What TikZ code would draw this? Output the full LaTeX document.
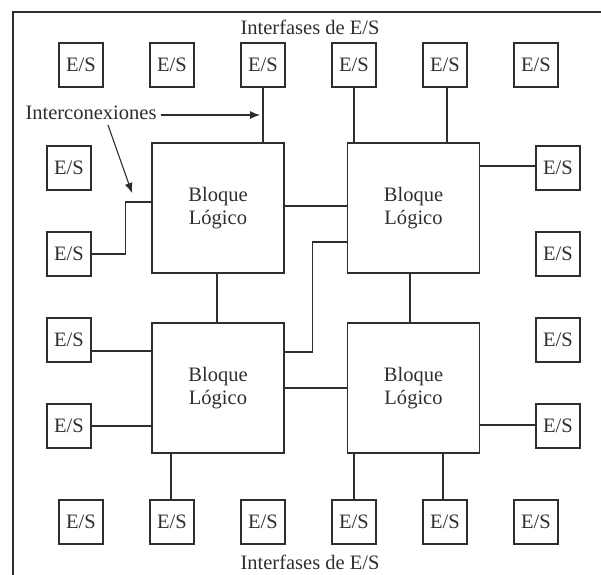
\documentclass[tikz,border=0pt]{standalone}
\usepackage{fontspec}
\setmainfont{Liberation Serif}
\usetikzlibrary{arrows.meta,calc}
\definecolor{ink}{HTML}{2E2E2E}
\begin{document}
\begin{tikzpicture}[x=1pt,y=-1pt,
  font=\fontsize{20.5}{22}\selectfont,
  every node/.style={text=ink},
  iobox/.style={draw=ink,line width=1.4pt,minimum width=44pt,minimum height=44pt,inner sep=0pt},
  logicbox/.style={draw=ink,line width=1.4pt,minimum width=132pt,minimum height=130pt,inner sep=0pt,align=center,font=\fontsize{20.5}{23}\selectfont},
  wire/.style={draw=ink,line width=1.3pt},
  pointer/.style={draw=ink,line width=1.1pt,-{Latex[length=10pt,width=8pt]}}]
\useasboundingbox (0,0) rectangle (601,574);
% outer frame (right and bottom sides lie beyond the page)
\draw[ink,line width=1.4pt] (13,590) -- (13,12) -- (620,12);

% I/O pads
\foreach \i/\x in {1/81,2/172,3/263,4/354,5/445,6/536}{
  \node[iobox] (t\i) at (\x,65) {E/S};
  \node[iobox] (b\i) at (\x,522) {E/S};
}
\foreach \i/\y in {1/168,2/254,3/340,4/426}{
  \node[iobox] (l\i) at (69,\y) {E/S};
  \node[iobox] (r\i) at (558,\y) {E/S};
}

% logic blocks
\node[logicbox] (A) at (218,208) {Bloque\\Lógico};
\node[logicbox] (B) at (413.5,208) {Bloque\\Lógico};
\node[logicbox] (C) at (218,388) {Bloque\\Lógico};
\node[logicbox] (D) at (413.5,388) {Bloque\\Lógico};

% interface labels
\node (ttop) at (310,27) {Interfases de E/S};
\node (tbot) at (310,562) {Interfases de E/S};

% interconnections
\draw[wire] (t3.south) -- (t3.south |- A.north);
\draw[wire] (t4.south) -- (t4.south |- B.north);
\draw[wire] ([xshift=2pt]t5.south) -- ([xshift=2pt]t5.south |- B.north);
\draw[wire] ([yshift=2pt]r1.west) -- ([yshift=2pt]r1.west -| B.east);
\draw[wire] (l2.east) -- ++(34,0) |- ([yshift=6pt]A.west);
\draw[wire] ([yshift=2pt]A.east) -- ([yshift=2pt]B.west);
\draw[wire] ([xshift=-1pt]A.south) -- ([xshift=-1pt]C.north);
\draw[wire] ([xshift=-3.5pt]B.south) -- ([xshift=-3.5pt]D.north);
\draw[wire] ([yshift=36pt]C.east) -- ++(28,0) |- ([yshift=-34pt]B.west);
\path ([yshift=-11pt]l3.east) coordinate (p3);
\draw[wire] (p3) -- (p3 -| C.west);
\draw[wire] (l4.east) -- (l4.east -| C.west);
\draw[wire] (C.east) -- (D.west);
\draw[wire] ([xshift=-1pt]b2.north) -- ([xshift=-1pt]b2.north |- C.south);
\draw[wire] ([yshift=1pt]r4.west) -- ([yshift=1pt]r4.west -| D.east);
\draw[wire] (b4.north) -- (b4.north |- D.south);
\draw[wire] ([xshift=-2pt]b5.north) -- ([xshift=-2pt]b5.north |- D.south);

% callout
\node[inner sep=2pt] (lab) at (91,113) {Interconexiones};
\coordinate (tipA) at (260,115);
\coordinate (srcB) at (108,125);
\coordinate (tipB) at (132,193);
\draw[pointer] ([xshift=2pt]lab.east |- tipA) -- (tipA);
\draw[pointer] (srcB) -- (tipB);
\end{tikzpicture}
\end{document}
